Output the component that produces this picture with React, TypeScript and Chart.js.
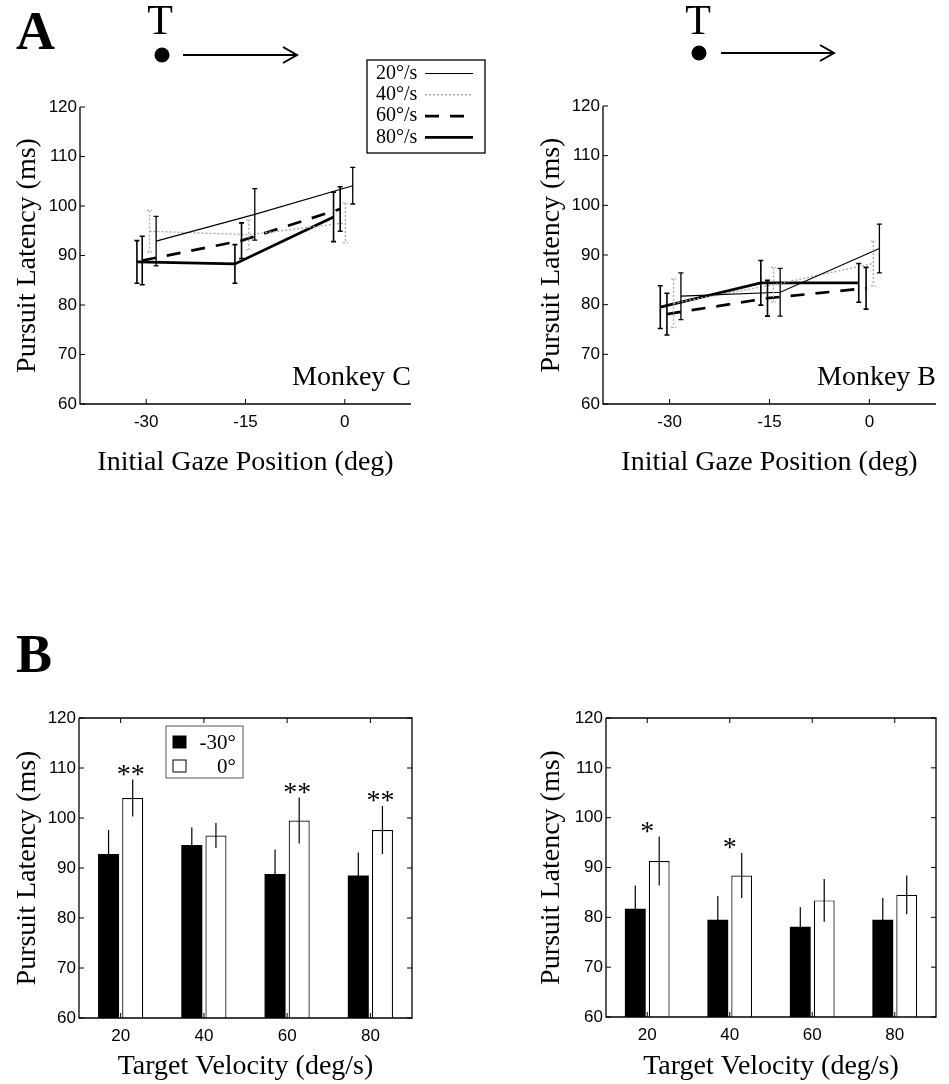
import React, { useEffect, useRef } from "react";
import { Chart, registerables } from "chart.js";

Chart.register(...registerables);

const SERIF = '"Liberation Serif", "Times New Roman", serif';
const SANS = '"Liberation Sans", Arial, sans-serif';

// ---------- Panel A data (latency vs initial gaze position) ----------
const speedLabels = ["20°/s", "40°/s", "60°/s", "80°/s"];
const gazeTicks = [-30, -15, 0];

// Monkey C
const cX20 = [-28.5, -13.6, 1.2];
const cY20 = [92.9, 98.3, 104.1];
const cE20 = [5.0, 5.2, 3.7];
const cX40 = [-29.5, -14.5, 0.1];
const cY40 = [94.9, 94.2, 96.6];
const cE40 = [4.2, 3.0, 4.0];
const cX60 = [-30.6, -15.6, -0.7];
const cY60 = [89.0, 93.0, 99.4];
const cE60 = [4.9, 3.6, 4.5];
const cX80 = [-31.4, -16.6, -1.7];
const cY80 = [88.7, 88.3, 97.8];
const cE80 = [4.3, 3.9, 5.0];

// Monkey B
const bX20 = [-28.3, -13.4, 1.5];
const bY20 = [81.7, 82.5, 91.3];
const bE20 = [4.7, 4.8, 4.9];
const bX40 = [-29.4, -14.4, 0.6];
const bY40 = [80.3, 84.0, 88.3];
const bE40 = [4.9, 3.5, 4.5];
const bX60 = [-30.4, -15.3, -0.5];
const bY60 = [78.1, 81.3, 83.3];
const bE60 = [4.2, 3.6, 4.2];
const bX80 = [-31.4, -16.3, -1.6];
const bY80 = [79.5, 84.4, 84.4];
const bE80 = [4.3, 4.5, 3.9];

// ---------- Panel B data (latency vs target velocity) ----------
const velocities = ["20", "40", "60", "80"];
const gazeLabels = ["-30°", "0°"];

const cNeg30 = [92.8, 94.6, 88.8, 88.5];
const cNeg30Err = [4.8, 3.5, 4.9, 4.6];
const cZero = [104.0, 96.5, 99.5, 97.6];
const cZeroErr = [3.7, 2.5, 4.6, 4.8];
const cSig = ["**", "", "**", "**"];

const bNeg30 = [81.7, 79.5, 78.1, 79.5];
const bNeg30Err = [4.7, 4.8, 3.9, 4.4];
const bZero = [91.3, 88.4, 83.4, 84.5];
const bZeroErr = [4.9, 4.5, 4.3, 3.9];
const bSig = ["*", "*", "", ""];

// ---------- styles ----------
const lineStyles = [
  { color: "#000", width: 1.2, dash: [] as number[], errWidth: 1.3 },
  { color: "#a8a8a8", width: 1.4, dash: [2, 2], errWidth: 1.3 },
  { color: "#000", width: 2.7, dash: [14, 11], errWidth: 1.6 },
  { color: "#000", width: 2.8, dash: [] as number[], errWidth: 1.6 },
];

const pts = (xs: number[], ys: number[]) => xs.map((x, i) => ({ x, y: ys[i] }));

function drawFrame(chart: any, box: boolean) {
  const { ctx, chartArea, scales } = chart;
  const { left, right, top, bottom } = chartArea;
  const x = scales.x;
  const y = scales.y;
  const tl = 5;
  ctx.save();
  ctx.strokeStyle = "#000";
  ctx.lineWidth = 1.3;
  ctx.setLineDash([]);
  ctx.beginPath();
  ctx.moveTo(left, top);
  ctx.lineTo(left, bottom);
  ctx.lineTo(right, bottom);
  if (box) {
    ctx.lineTo(right, top);
    ctx.lineTo(left, top);
  }
  ctx.stroke();
  ctx.lineWidth = 1;
  ctx.beginPath();
  y.ticks.forEach((_t: any, i: number) => {
    const py = y.getPixelForTick(i);
    ctx.moveTo(left, py);
    ctx.lineTo(left + tl, py);
    if (box) {
      ctx.moveTo(right, py);
      ctx.lineTo(right - tl, py);
    }
  });
  x.ticks.forEach((_t: any, i: number) => {
    const px = x.getPixelForTick(i);
    ctx.moveTo(px, bottom);
    ctx.lineTo(px, bottom - tl);
    if (box) {
      ctx.moveTo(px, top);
      ctx.lineTo(px, top + tl);
    }
  });
  ctx.stroke();
  ctx.restore();
}

type Geom = {
  padTop: number;
  padRight: number;
  yW: number;
  xH: number;
  yTitlePad: number;
  xTitlePad: number;
};

function yScale(geom: Geom) {
  return {
    type: "linear",
    min: 60,
    max: 120,
    ticks: { stepSize: 10, color: "#000", padding: 3, font: { family: SANS, size: 17 } },
    grid: { display: false, drawTicks: false },
    border: { display: false },
    afterFit: (s: any) => {
      s.width = geom.yW;
    },
    title: {
      display: true,
      text: "Pursuit Latency (ms)",
      color: "#000",
      font: { family: SERIF, size: 28 },
      padding: { top: geom.yTitlePad, bottom: 0 },
    },
  };
}

function GazeChart(props: {
  xs: number[][];
  ys: number[][];
  es: number[][];
  note: string;
  legend: boolean;
  geom: Geom;
  width: number;
  height: number;
}) {
  const ref = useRef<HTMLCanvasElement | null>(null);
  useEffect(() => {
    const { xs, ys, es, note, legend, geom } = props;
    const datasets = speedLabels.map((label, i) => ({
      label,
      data: pts(xs[i], ys[i]),
      errors: es[i],
      borderColor: lineStyles[i].color,
      borderWidth: lineStyles[i].width,
      borderDash: lineStyles[i].dash,
      pointRadius: 0,
      fill: false,
      tension: 0,
    }));
    const decor = {
      id: "decor",
      afterDatasetsDraw(chart: any) {
        const { ctx, scales } = chart;
        const x = scales.x;
        const y = scales.y;
        chart.data.datasets.forEach((ds: any, i: number) => {
          const st = lineStyles[i];
          ctx.save();
          ctx.strokeStyle = st.color;
          ctx.lineWidth = st.errWidth;
          ctx.setLineDash(i === 1 ? [2, 2] : []);
          ds.data.forEach((p: any, j: number) => {
            const px = x.getPixelForValue(p.x);
            const y1 = y.getPixelForValue(p.y + ds.errors[j]);
            const y2 = y.getPixelForValue(p.y - ds.errors[j]);
            ctx.beginPath();
            ctx.moveTo(px, y1);
            ctx.lineTo(px, y2);
            ctx.moveTo(px - 2.5, y1);
            ctx.lineTo(px + 2.5, y1);
            ctx.moveTo(px - 2.5, y2);
            ctx.lineTo(px + 2.5, y2);
            ctx.stroke();
          });
          ctx.restore();
        });
      },
      afterDraw(chart: any) {
        const { ctx, chartArea } = chart;
        drawFrame(chart, false);
        ctx.save();
        ctx.fillStyle = "#000";
        ctx.font = `28px ${SERIF}`;
        ctx.textAlign = "right";
        ctx.textBaseline = "middle";
        ctx.fillText(note, chartArea.right, chartArea.bottom - 26);
        ctx.restore();
        if (legend) {
          const bx = chartArea.left + 287;
          const by = chartArea.top - 47;
          const bw = 118;
          const bh = 93;
          ctx.save();
          ctx.fillStyle = "#fff";
          ctx.fillRect(bx, by, bw, bh);
          ctx.strokeStyle = "#000";
          ctx.lineWidth = 1.3;
          ctx.strokeRect(bx, by, bw, bh);
          ctx.font = `20px ${SERIF}`;
          ctx.textAlign = "left";
          ctx.textBaseline = "middle";
          speedLabels.forEach((lab, i) => {
            const cy = by + 13.5 + i * 21.3;
            ctx.fillStyle = "#000";
            ctx.fillText(lab, bx + 9, cy);
            const st = lineStyles[i];
            ctx.strokeStyle = st.color;
            ctx.lineWidth = st.width;
            ctx.setLineDash(st.dash);
            ctx.beginPath();
            ctx.moveTo(bx + 58, cy);
            ctx.lineTo(bx + 106, cy);
            ctx.stroke();
          });
          ctx.restore();
        }
      },
    };
    const chart = new Chart(ref.current as HTMLCanvasElement, {
      type: "line",
      data: { datasets } as any,
      options: {
        animation: false,
        responsive: false,
        events: [],
        layout: { padding: { top: geom.padTop, right: geom.padRight, left: 0, bottom: 0 } },
        plugins: { legend: { display: false }, tooltip: { enabled: false } },
        scales: {
          x: {
            type: "linear",
            min: -40,
            max: 10,
            afterBuildTicks: (s: any) => {
              s.ticks = gazeTicks.map((v) => ({ value: v }));
            },
            afterFit: (s: any) => {
              s.height = geom.xH;
            },
            ticks: { color: "#000", padding: 8, font: { family: SANS, size: 17 } },
            grid: { display: false, drawTicks: false },
            border: { display: false },
            title: {
              display: true,
              text: "Initial Gaze Position (deg)",
              color: "#000",
              font: { family: SERIF, size: 28 },
              padding: { top: 0, bottom: geom.xTitlePad },
            },
          },
          y: yScale(geom),
        },
      } as any,
      plugins: [decor],
    });
    return () => chart.destroy();
  }, []);
  return <canvas ref={ref} width={props.width} height={props.height} style={{ width: props.width, height: props.height }} />;
}

function VelocityChart(props: {
  neg: number[];
  negErr: number[];
  zero: number[];
  zeroErr: number[];
  sig: string[];
  sigDx: number;
  legend: boolean;
  geom: Geom;
  width: number;
  height: number;
}) {
  const ref = useRef<HTMLCanvasElement | null>(null);
  useEffect(() => {
    const { neg, negErr, zero, zeroErr, sig, sigDx, legend, geom } = props;
    const decor = {
      id: "decor",
      afterDatasetsDraw(chart: any) {
        const { ctx, scales } = chart;
        const y = scales.y;
        const errs = [negErr, zeroErr];
        const vals = [neg, zero];
        ctx.save();
        ctx.strokeStyle = "#000";
        ctx.lineWidth = 1.2;
        [0, 1].forEach((d) => {
          const meta = chart.getDatasetMeta(d);
          meta.data.forEach((bar: any, j: number) => {
            const px = bar.x;
            ctx.beginPath();
            ctx.moveTo(px, y.getPixelForValue(vals[d][j] + errs[d][j]));
            ctx.lineTo(px, y.getPixelForValue(vals[d][j] - errs[d][j]));
            ctx.stroke();
          });
        });
        ctx.restore();
        // significance stars
        const meta1 = chart.getDatasetMeta(1);
        ctx.save();
        ctx.fillStyle = "#000";
        ctx.font = `28px ${SERIF}`;
        ctx.textAlign = "center";
        ctx.textBaseline = "alphabetic";
        sig.forEach((s, j) => {
          if (!s) return;
          const bar = meta1.data[j];
          const topPx = y.getPixelForValue(zero[j] + zeroErr[j]);
          ctx.fillText(s, bar.x + sigDx, topPx + 3);
        });
        ctx.restore();
      },
      afterDraw(chart: any) {
        const { ctx, chartArea } = chart;
        drawFrame(chart, true);
        if (legend) {
          const bx = chartArea.left + 87;
          const by = chartArea.top + 8;
          const bw = 77;
          const bh = 52;
          ctx.save();
          ctx.fillStyle = "#fff";
          ctx.fillRect(bx, by, bw, bh);
          ctx.strokeStyle = "#555";
          ctx.lineWidth = 1;
          ctx.strokeRect(bx, by, bw, bh);
          const fills = ["#000", "#fff"];
          ctx.font = `21px ${SERIF}`;
          ctx.textAlign = "right";
          ctx.textBaseline = "middle";
          gazeLabels.forEach((lab, i) => {
            const cy = by + 16 + i * 24;
            ctx.fillStyle = fills[i];
            ctx.fillRect(bx + 7, cy - 6, 13, 12);
            ctx.strokeStyle = "#000";
            ctx.lineWidth = 1;
            ctx.strokeRect(bx + 7, cy - 6, 13, 12);
            ctx.fillStyle = "#000";
            ctx.fillText(lab, bx + 70, cy + 1);
          });
          ctx.restore();
        }
      },
    };
    const chart = new Chart(ref.current as HTMLCanvasElement, {
      type: "bar",
      data: {
        labels: velocities,
        datasets: [
          {
            label: gazeLabels[0],
            data: neg,
            backgroundColor: "#000",
            borderColor: "#000",
            borderWidth: 0,
            categoryPercentage: 0.58,
            barPercentage: 0.87,
          },
          {
            label: gazeLabels[1],
            data: zero,
            backgroundColor: "#fff",
            borderColor: "#000",
            borderWidth: 1.2,
            borderSkipped: "bottom",
            categoryPercentage: 0.58,
            barPercentage: 0.87,
          },
        ],
      },
      options: {
        animation: false,
        responsive: false,
        events: [],
        layout: { padding: { top: geom.padTop, right: geom.padRight, left: 0, bottom: 0 } },
        plugins: { legend: { display: false }, tooltip: { enabled: false } },
        scales: {
          x: {
            type: "category",
            afterFit: (s: any) => {
              s.height = geom.xH;
            },
            ticks: { color: "#000", padding: 8, font: { family: SANS, size: 17 } },
            grid: { display: false, drawTicks: false },
            border: { display: false },
            title: {
              display: true,
              text: "Target Velocity (deg/s)",
              color: "#000",
              font: { family: SERIF, size: 28 },
              padding: { top: 0, bottom: geom.xTitlePad },
            },
          },
          y: yScale(geom),
        },
      } as any,
      plugins: [decor],
    });
    return () => chart.destroy();
  }, []);
  return <canvas ref={ref} width={props.width} height={props.height} style={{ width: props.width, height: props.height }} />;
}

function TargetIcon(props: { tx: number; dotX: number; y: number; x1: number; x2: number }) {
  const { tx, dotX, y, x1, x2 } = props;
  return (
    <g>
      <text x={tx} y={34} textAnchor="middle" fontFamily={SERIF} fontSize={42} fill="#000">
        T
      </text>
      <circle cx={dotX} cy={y} r={7.5} fill="#000" />
      <line x1={x1} y1={y} x2={x2} y2={y} stroke="#000" strokeWidth={2} />
      <polyline points={`${x2 - 14},${y - 8} ${x2},${y} ${x2 - 14},${y + 8}`} fill="none" stroke="#000" strokeWidth={2} />
    </g>
  );
}

export default function App() {
  const abs = (left: number, top: number): React.CSSProperties => ({ position: "absolute", left, top });
  return (
    <div style={{ position: "absolute", left: 0, top: 0, width: 949, height: 1084, background: "#fff", overflow: "hidden" }}>
      <div style={abs(0, 0)}>
        <GazeChart
          xs={[cX20, cX40, cX60, cX80]}
          ys={[cY20, cY40, cY60, cY80]}
          es={[cE20, cE40, cE60, cE80]}
          note="Monkey C"
          legend={true}
          geom={{ padTop: 107, padRight: 89, yW: 80, xH: 96, yTitlePad: 10.7, xTitlePad: 21 }}
          width={500}
          height={500}
        />
      </div>
      <div style={abs(500, 0)}>
        <GazeChart
          xs={[bX20, bX40, bX60, bX80]}
          ys={[bY20, bY40, bY60, bY80]}
          es={[bE20, bE40, bE60, bE80]}
          note="Monkey B"
          legend={false}
          geom={{ padTop: 106, padRight: 13, yW: 103, xH: 96, yTitlePad: 35, xTitlePad: 21 }}
          width={449}
          height={500}
        />
      </div>
      <div style={abs(0, 500)}>
        <VelocityChart
          neg={cNeg30}
          negErr={cNeg30Err}
          zero={cZero}
          zeroErr={cZeroErr}
          sig={cSig}
          sigDx={-2}
          legend={true}
          geom={{ padTop: 218, padRight: 68, yW: 79, xH: 66, yTitlePad: 10.7, xTitlePad: 1 }}
          width={480}
          height={584}
        />
      </div>
      <div style={abs(500, 500)}>
        <VelocityChart
          neg={bNeg30}
          negErr={bNeg30Err}
          zero={bZero}
          zeroErr={bZeroErr}
          sig={bSig}
          sigDx={-12}
          legend={false}
          geom={{ padTop: 218, padRight: 13, yW: 106, xH: 67, yTitlePad: 35, xTitlePad: 1 }}
          width={449}
          height={584}
        />
      </div>
      <svg width={949} height={1084} style={{ position: "absolute", left: 0, top: 0, pointerEvents: "none" }}>
        <text x={16} y={49} fontFamily={SERIF} fontWeight="bold" fontSize={54} fill="#000">
          A
        </text>
        <text x={16} y={672} fontFamily={SERIF} fontWeight="bold" fontSize={54} fill="#000">
          B
        </text>
        <TargetIcon tx={160} dotX={162} y={55} x1={183} x2={297} />
        <TargetIcon tx={698} dotX={699} y={53} x1={721} x2={834} />
      </svg>
    </div>
  );
}
